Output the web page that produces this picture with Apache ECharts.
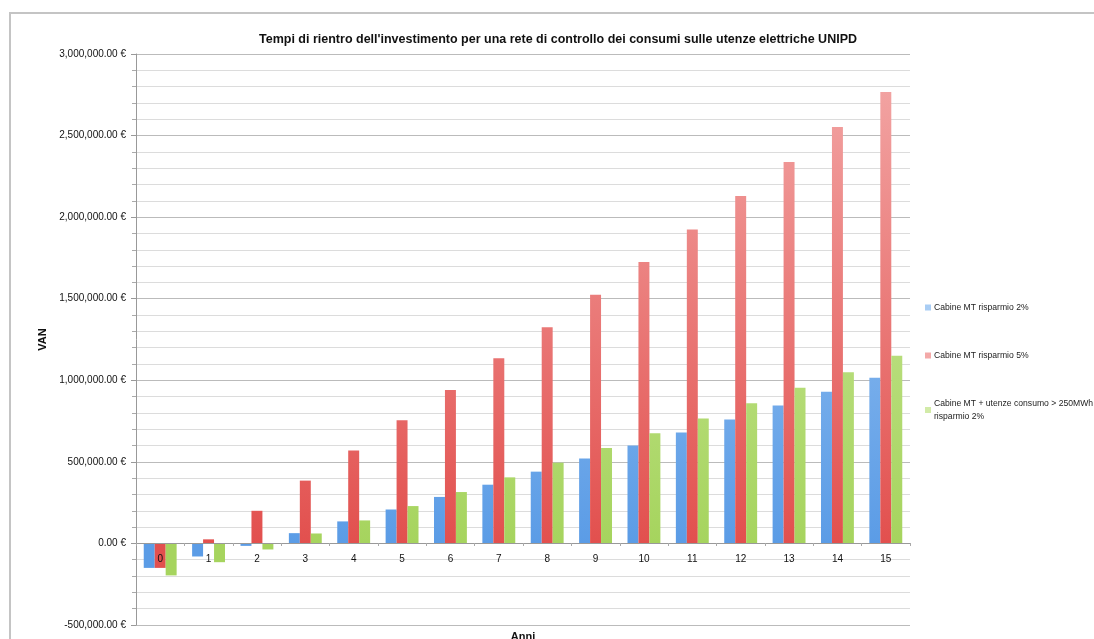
<!DOCTYPE html>
<html>
<head>
<meta charset="utf-8">
<title>VAN</title>
<script src="https://cdn.jsdelivr.net/npm/echarts@6/dist/echarts.min.js"></script>
<style>
html, body { margin: 0; padding: 0; background: #fff; }
#chart { width: 1094px; height: 639px; }
</style>
</head>
<body>
<div id="chart"></div>
<script>
var anni = ['0','1','2','3','4','5','6','7','8','9','10','11','12','13','14','15'];
var nomiSerie = ['Cabine MT risparmio 2%', 'Cabine MT risparmio 5%', 'Cabine MT + utenze consumo > 250MWh risparmio 2%'];
// valori (euro)
var mt2 = [-150000, -80000, -15000, 63000, 135000, 208000, 285000, 360000, 440000, 520000, 600000, 680000, 760000, 845000, 930000, 1015000];
var mt5 = [-150000, 25000, 200000, 385000, 570000, 755000, 940000, 1135000, 1325000, 1525000, 1725000, 1925000, 2130000, 2338000, 2552000, 2767000];
var mtUtenze = [-196000, -115000, -37000, 61000, 141000, 229000, 315000, 405000, 495000, 585000, 675000, 765000, 860000, 955000, 1050000, 1150000];

var FONT = '"Liberation Sans", sans-serif';

function grad(top, bottom) {
  // gradiente globale: chiaro in alto, pieno vicino allo zero
  return new echarts.graphic.LinearGradient(0, 54, 0, 543, [
    {offset: 0, color: top},
    {offset: 1, color: bottom}
  ], true);
}

function euro(v) {
  return v.toLocaleString('en-US', {minimumFractionDigits: 2, maximumFractionDigits: 2}) + ' €';
}

var chart = echarts.init(document.getElementById('chart'));
var option = {
  animation: false,
  backgroundColor: '#fff',
  color: ['#6fa8ea', '#e8605e', '#b6dc78'],
  title: {
    text: "Tempi di rientro dell'investimento per una rete di controllo dei consumi sulle utenze elettriche UNIPD",
    left: 553,
    textAlign: 'center',
    top: 28,
    textStyle: { fontFamily: FONT, fontSize: 12.5, fontWeight: 'bold', color: '#111' }
  },
  graphic: [{
    type: 'polyline',
    shape: { points: [[10, 639], [10, 13], [1094, 13]] },
    style: { stroke: '#c4c4c4', lineWidth: 2, fill: null },
    silent: true
  }],
  legend: {
    orient: 'vertical',
    left: 920,
    top: 296,
    itemWidth: 6,
    itemHeight: 6,
    itemGap: 35,
    icon: 'rect',
    data: nomiSerie,
    formatter: function (name) {
      return name.replace('250MWh risparmio', '250MWh\nrisparmio');
    },
    textStyle: { fontFamily: FONT, fontSize: 8.6, color: '#222', lineHeight: 13, padding: [0, 0, 0, -2] }
  },
  grid: { left: 136, right: 184, top: 54, bottom: 14, containLabel: false, outerBoundsMode: 'none' },
  xAxis: {
    type: 'category',
    data: anni,
    name: 'Anni',
    nameLocation: 'middle',
    nameGap: 88,
    nameTextStyle: { fontFamily: FONT, fontSize: 11, fontWeight: 'bold', color: '#111' },
    z: 3,
    // asse spostato sulla linea dello zero (etichette comprese)
    offset: -82,
    axisLine: { onZero: false, lineStyle: { color: '#999' } },
    axisTick: { show: true, length: 3, lineStyle: { color: '#aaa' } },
    axisLabel: { fontFamily: FONT, fontSize: 10, color: '#111', margin: 11 },
    splitLine: { show: false }
  },
  yAxis: {
    type: 'value',
    min: -500000,
    max: 3000000,
    interval: 500000,
    name: 'VAN',
    nameLocation: 'middle',
    nameGap: 78,
    nameRotate: 90,
    nameTextStyle: { fontFamily: FONT, fontSize: 11, fontWeight: 'bold', color: '#111' },
    axisLine: { show: true, lineStyle: { color: '#999' } },
    axisTick: { show: true, length: 5, lineStyle: { color: '#999' } },
    minorTick: { show: true, splitNumber: 5, length: 4, lineStyle: { color: '#aaa' } },
    axisLabel: { fontFamily: FONT, fontSize: 10, color: '#111', margin: 10, formatter: euro },
    splitLine: { show: true, lineStyle: { color: '#bbbbbb', width: 1 } },
    minorSplitLine: { show: true, lineStyle: { color: '#dcdcdc', width: 1 } }
  },
  series: [
    {
      name: nomiSerie[0],
      type: 'bar',
      data: mt2,
      barGap: '0%',
      barCategoryGap: '32%',
      itemStyle: { color: grad('#a9cdf4', '#5b9ce6') }
    },
    {
      name: nomiSerie[1],
      type: 'bar',
      data: mt5,
      barGap: '0%',
      barCategoryGap: '32%',
      itemStyle: { color: grad('#f3a9a8', '#e2504e') }
    },
    {
      name: nomiSerie[2],
      type: 'bar',
      data: mtUtenze,
      barGap: '0%',
      barCategoryGap: '32%',
      itemStyle: { color: grad('#d2eba8', '#a6d45e') }
    }
  ]
};
chart.setOption(option);
</script>
</body>
</html>
